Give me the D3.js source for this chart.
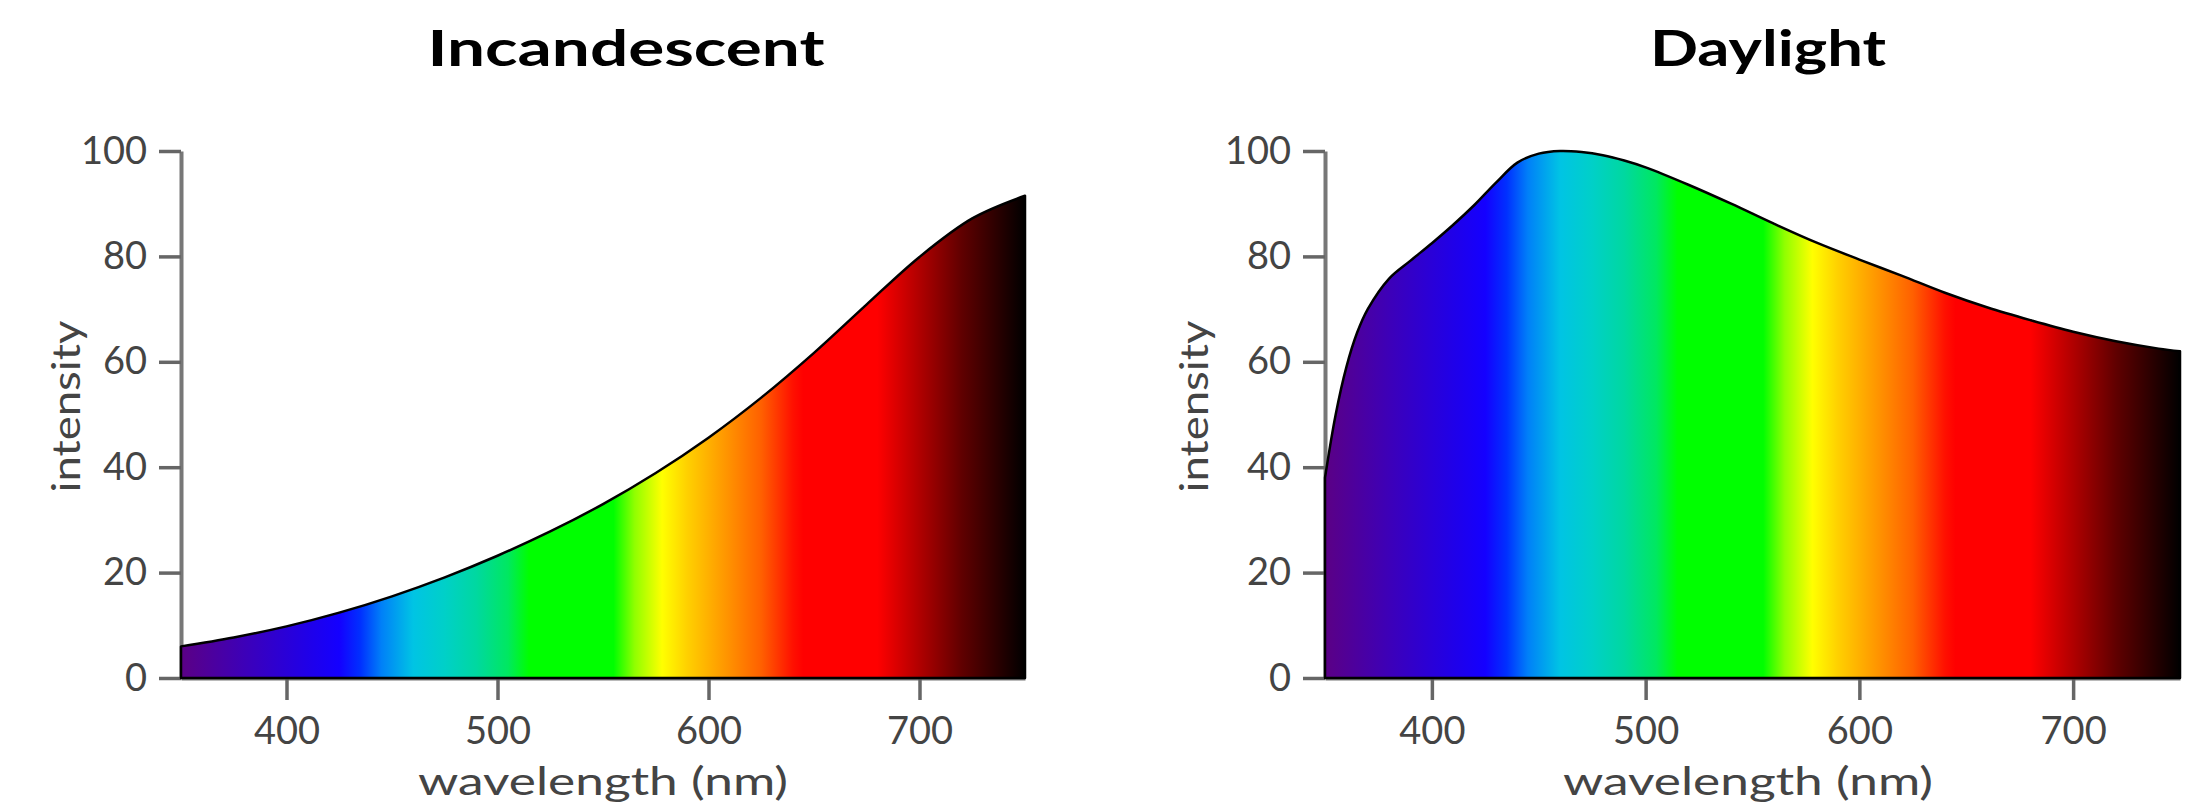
<!DOCTYPE html>
<html>
<head>
<meta charset="utf-8">
<script src="https://cdn.jsdelivr.net/npm/d3@7"></script>
<style>
  html, body { margin: 0; padding: 0; background: #fff; }
  svg { display: block; }
  text { font-family: Lato, "Noto Sans", sans-serif; }
</style>
</head>
<body>
<script>
// ---- data ----
const incWavelengths = [350, 375, 400, 425, 450, 475, 500, 525, 550, 575, 600, 625, 650, 675, 700, 725, 750];
const incIntensity   = [6.0, 7.7, 9.8, 12.4, 15.5, 19.1, 23.2, 27.8, 33.0, 38.9, 45.6, 53.2, 61.7, 70.9, 79.9, 87.2, 91.5];

const dayWavelengths = [350, 355, 360, 365, 370, 380, 390, 400, 410, 420, 430, 440, 450, 460, 470, 480, 490, 500, 520, 540, 560, 580, 600, 620, 640, 660, 680, 700, 720, 740, 750];
const dayIntensity   = [38, 50, 59, 65.5, 70, 75.8, 79.2, 82.5, 86, 89.8, 94, 97.8, 99.5, 100, 99.8, 99.2, 98.2, 96.9, 93.6, 90.0, 86.2, 82.6, 79.4, 76.3, 73.1, 70.3, 67.9, 65.7, 63.9, 62.5, 62];

const xTicks = [400, 500, 600, 700];
const yTicks = [0, 20, 40, 60, 80, 100];

const spectrumNm     = [350, 380, 410, 425, 435, 445, 460, 475, 490, 505, 515, 555, 565, 578, 590, 605, 625, 640, 645, 680, 700, 720, 740, 750];
const spectrumColors = ["#5b0085", "#3d00b8", "#2000e8", "#1400ff", "#0030ff", "#0080f8", "#00c4e4", "#00d0c8", "#00d8a0", "#00e860", "#00ff00", "#00ff00", "#90ff00", "#ffff00", "#ffd000", "#ffa000", "#ff6000", "#ff1000", "#ff0000", "#ff0000", "#b00000", "#600000", "#200000", "#000000"];

const titles = ["Incandescent", "Daylight"];
const xLabel = "wavelength (nm)";
const yLabel = "intensity";

// ---- layout ----
const W = 2187, H = 807;
const svg = d3.select("body").append("svg").attr("width", W).attr("height", H);
const defs = svg.append("defs");

const panels = [
  { id: "inc", title: titles[0], xs: incWavelengths, ys: incIntensity, x0: 181, x1: 1025,
    titleX: 626, titleLen: 397, xLabelX: 603, yLabelX: 80 },
  { id: "day", title: titles[1], xs: dayWavelengths, ys: dayIntensity, x0: 1325, x1: 2180,
    titleX: 1768, titleLen: 236, xLabelX: 1748, yLabelX: 1208 }
];
const yTop = 151, yBot = 678;

panels.forEach(p => {
  const x = d3.scaleLinear().domain([350, 750]).range([p.x0, p.x1]);
  const y = d3.scaleLinear().domain([0, 100]).range([yBot, yTop]);
  const g = svg.append("g");

  // gradient
  const grad = defs.append("linearGradient")
    .attr("id", "spec-" + p.id)
    .attr("gradientUnits", "userSpaceOnUse")
    .attr("x1", x(350)).attr("x2", x(750)).attr("y1", 0).attr("y2", 0);
  spectrumNm.forEach((nm, i) => {
    grad.append("stop")
      .attr("offset", (nm - 350) / 400)
      .attr("stop-color", spectrumColors[i]);
  });

  // axes
  const yAxis = g.append("g").attr("transform", `translate(${x(350)},0)`)
    .call(d3.axisLeft(y).tickValues(yTicks).tickSize(22).tickSizeOuter(0).tickPadding(12));
  const xAxis = g.append("g").attr("transform", `translate(0,${y(0)})`)
    .call(d3.axisBottom(x).tickValues(xTicks).tickSize(22).tickSizeOuter(0).tickPadding(17));
  [yAxis, xAxis].forEach(a => {
    a.selectAll("path.domain").attr("stroke", "#777").attr("stroke-width", 4);
    a.selectAll(".tick line").attr("stroke", "#666").attr("stroke-width", 3.5);
    a.selectAll(".tick text").attr("fill", "#444").style("font-size", "38px")
      .style("font-family", "Lato, 'Noto Sans', sans-serif");
  });

  // area
  const data = p.xs.map((w, i) => ({ w, v: p.ys[i] }));
  const area = d3.area()
    .x(d => x(d.w)).y0(y(0)).y1(d => y(d.v))
    .curve(d3.curveCatmullRom.alpha(0.5));
  g.append("path")
    .datum(data)
    .attr("d", area)
    .attr("fill", `url(#spec-${p.id})`)
    .attr("stroke", "#000")
    .attr("stroke-width", 2.5)
    .attr("stroke-linejoin", "round");

  // title
  g.append("text")
    .attr("x", p.titleX).attr("y", 66)
    .attr("text-anchor", "middle")
    .attr("textLength", p.titleLen).attr("lengthAdjust", "spacingAndGlyphs")
    .style("font-size", "50px").style("font-weight", "bold").attr("fill", "#000")
    .text(p.title);

  // x label
  g.append("text")
    .attr("x", p.xLabelX).attr("y", 795)
    .attr("text-anchor", "middle")
    .attr("textLength", 370).attr("lengthAdjust", "spacingAndGlyphs")
    .style("font-size", "38px").attr("fill", "#444")
    .text(xLabel);

  // y label
  g.append("text")
    .attr("transform", `translate(${p.yLabelX},${(yTop + yBot) / 2 - 8}) rotate(-90)`)
    .attr("text-anchor", "middle")
    .attr("textLength", 172).attr("lengthAdjust", "spacingAndGlyphs")
    .style("font-size", "38px").attr("fill", "#444")
    .text(yLabel);
});
</script>
</body>
</html>
